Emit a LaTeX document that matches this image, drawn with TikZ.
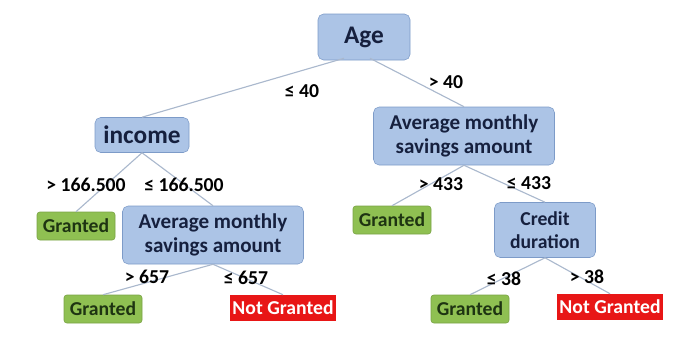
\documentclass[tikz,border=0pt]{standalone}
\usepackage{fontspec}
\setmainfont{Carlito}
\usepackage{tikz}
\usepackage{xcolor}
\usetikzlibrary{arrows.meta,positioning}
\definecolor{splitblue}{RGB}{172,196,230}
\definecolor{splitedge}{RGB}{125,155,200}
\definecolor{splittext}{RGB}{22,32,62}
\definecolor{grantgreen}{RGB}{143,192,82}
\definecolor{granttext}{RGB}{30,52,18}
\definecolor{denyred}{RGB}{232,22,22}
\definecolor{branchline}{RGB}{170,184,205}

\begin{document}
\begin{tikzpicture}[
    font=\bfseries\fontsize{14}{16}\selectfont,
    split/.style={draw=splitedge, fill=splitblue, rounded corners=4pt, text=splittext, align=center, inner sep=1pt},
    wide/.style={minimum width=4.525cm, minimum height=1.45cm, font=\bfseries\fontsize{15}{17}\selectfont},
    grant/.style={draw=grantgreen!85!black, fill=grantgreen, rounded corners=2pt, text=granttext, minimum width=1.95cm, minimum height=0.7cm, inner sep=1pt},
    deny/.style={fill=denyred, text=white, minimum width=2.65cm, minimum height=0.65cm, inner sep=1pt},
    branch/.style={branchline, line width=0.8pt},
    cond/.style={text=black, inner sep=1pt}
  ]
      \useasboundingbox (0,0) rectangle (17.2,8.475);
      % splits
      \node[split, minimum width=2.3cm, minimum height=1.15cm, font=\bfseries\fontsize{18}{20}\selectfont] (age) at (9.1,7.55) {Age};
      \node[split, minimum width=2.35cm, minimum height=0.875cm, font=\bfseries\fontsize{18}{20}\selectfont] (income) at (3.55,5.1) {income};
      \node[split, wide] (savingsL) at (5.325,2.6) {Average monthly\\savings amount};
      \node[split, wide] (savingsR) at (11.6,5.075) {Average monthly\\savings amount};
      \node[split, minimum width=2.525cm, minimum height=1.375cm] (credit) at (13.625,2.725) {Credit\\duration};
      % leaves
      \node[grant] (grantA) at (1.9,2.825) {Granted};
      \node[grant] (grantB) at (2.575,0.75) {Granted};
      \node[deny] (denyA) at (7.075,0.775) {Not Granted};
      \node[grant] (grantC) at (9.8,2.975) {Granted};
      \node[grant] (grantD) at (11.75,0.75) {Granted};
      \node[deny] (denyB) at (15.25,0.8) {Not Granted};
      % branches
      \draw[branch] (age.south) ++(-0.5,0.05) -- (income.north);
      \draw[branch] (age.south) ++(0.15,0.05) -- (savingsR.north);
      \draw[branch] (income.south) -- (grantA.north);
      \draw[branch] (income.south) -- (savingsL.north);
      \draw[branch] (savingsL.south) -- (grantB.north);
      \draw[branch] (savingsL.south) -- (denyA.north);
      \draw[branch] (savingsR.south) -- (grantC.north);
      \draw[branch] (savingsR.south) -- (credit.north);
      \draw[branch] (credit.south) -- (grantD.north);
      \draw[branch] (credit.south) -- (denyB.north);
      % conditions
      \node[cond] (leqA) at (7.55,6.2) {≤ 40};
      \node[cond] (gtA) at (11.15,6.425) {> 40};
      \node[cond] (gtB) at (2.15,3.85) {> 166.500};
      \node[cond] (leqB) at (4.6,3.85) {≤ 166.500};
      \node[cond] (gtC) at (3.675,1.55) {> 657};
      \node[cond] (leqC) at (6.15,1.525) {≤ 657};
      \node[cond] (gtD) at (11.025,3.875) {> 433};
      \node[cond] (leqD) at (13.225,3.9) {≤ 433};
      \node[cond] (leqE) at (12.6,1.5) {≤ 38};
      \node[cond] (gtE) at (14.675,1.55) {> 38};
    \end{tikzpicture}
\end{document}
